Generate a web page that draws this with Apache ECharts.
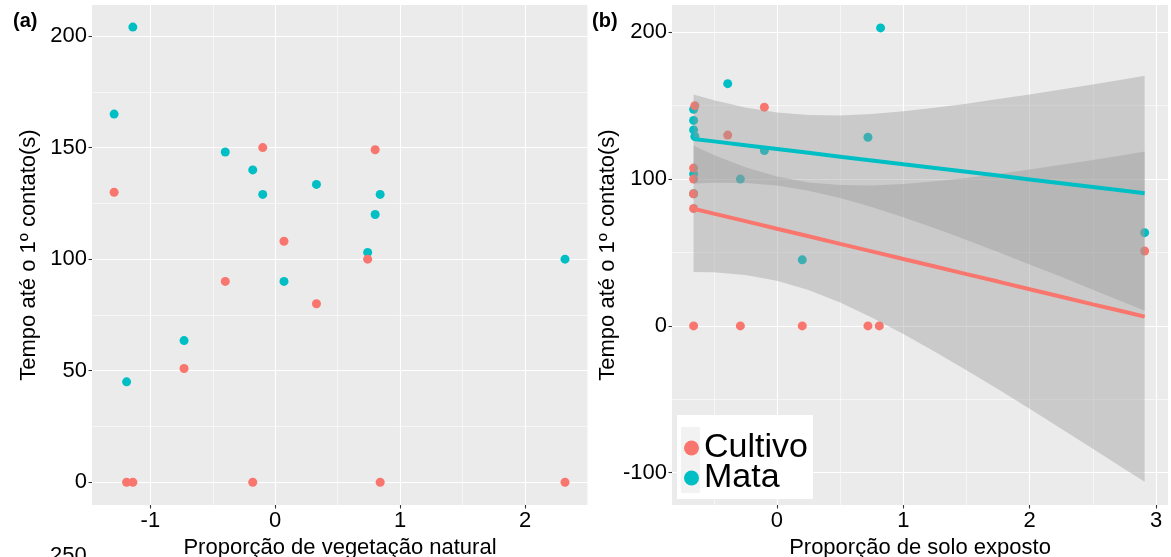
<!DOCTYPE html>
<html><head><meta charset="utf-8">
<script src="https://cdn.jsdelivr.net/npm/echarts@6/dist/echarts.min.js"></script>
<style>html,body{margin:0;padding:0;background:#fff}#c{width:1171px;height:557px}</style>
</head><body><div id="c"></div><script>
// ---- Panel (a): Proporção de vegetação natural ----
const aCultivoX = [-1.29, -0.10, 0.07, -0.40, -0.73, -1.19, -1.14, -0.18, 0.80, 0.74, 0.33, 0.84, 2.32];
const aCultivoY = [130, 150, 108, 90, 51, 0, 0, 0, 149, 100, 80, 0, 0];
const aMataX = [-1.14, -1.29, -0.40, -0.18, -0.10, 0.07, -0.73, -1.19, 0.33, 0.84, 0.80, 0.74, 2.32];
const aMataY = [204, 165, 148, 140, 129, 90, 63.5, 45, 133.5, 129, 120, 103, 100];
// ---- Panel (b): Proporção de solo exposto ----
const bCultivoX = [-0.65, -0.66, -0.66, -0.66, -0.66, -0.66, -0.39, -0.10, -0.29, 0.20, 0.72, 0.81, 2.91];
const bCultivoY = [150, 107.5, 100, 90, 80, 0, 130, 149, 0, 0, 0, 0, 51];
const bMataX = [-0.39, -0.66, -0.66, -0.66, -0.65, -0.66, -0.66, 0.72, -0.10, -0.29, 0.20, 0.82, 2.91];
const bMataY = [165, 147.5, 140, 133.5, 129, 103.5, 90, 128.5, 119.5, 100, 45, 203, 63.5];
// fitted lines and confidence bands
const fitX = [-0.66, -0.5, -0.25, 0, 0.25, 0.5, 0.75, 1, 1.25, 1.5, 1.75, 2, 2.25, 2.5, 2.75, 2.91];
const cultivoFit = [79.8, 76.5, 71.4, 66.2, 61.1, 55.9, 50.8, 45.6, 40.5, 35.3, 30.2, 25.0, 19.9, 14.7, 9.6, 6.3];
const cultivoLo = [36.8, 36.5, 34.7, 30.7, 24.4, 15.9, 5.8, -5.5, -17.6, -30.2, -43.2, -56.5, -70.0, -83.6, -97.4, -106.2];
const cultivoHi = [122.8, 116.5, 108.0, 101.7, 97.7, 95.9, 95.7, 96.7, 98.5, 100.8, 103.5, 106.5, 109.7, 113.0, 116.5, 118.8];
const mataFit = [127.3, 125.7, 123.1, 120.5, 117.9, 115.3, 112.7, 110.1, 107.6, 105.0, 102.4, 99.8, 97.2, 94.6, 92.0, 90.4];
const mataLo = [97.0, 97.5, 97.3, 95.6, 92.1, 87.2, 81.0, 74.0, 66.5, 58.6, 50.3, 41.9, 33.4, 24.7, 16.0, 10.4];
const mataHi = [157.6, 153.8, 148.8, 145.4, 143.7, 143.4, 144.4, 146.2, 148.6, 151.4, 154.5, 157.7, 161.0, 164.5, 168.0, 170.4];
// tick labels
const aXTicks = [-1, 0, 1, 2];
const aYTicks = [0, 50, 100, 150, 200];
const bXTicks = [0, 1, 2, 3];
const bYTicks = [-100, 0, 100, 200];
const seriesNames = ['Cultivo', 'Mata'];
const yTitle = 'Tempo até o 1º contato(s)';
const aXTitle = 'Proporção de vegetação natural';
const bXTitle = 'Proporção de solo exposto';

const FONT = "'Liberation Sans', Arial, sans-serif";
const RED = '#F8766D', TEAL = '#00BFC4';

function axis(gridIndex, min, max, ticks, splitNumber, name, nameGap) {
  return {
    type: 'value', gridIndex, min, max, splitNumber,
    name, nameLocation: 'middle', nameGap,
    nameTextStyle: { fontSize: 22, color: '#000', fontFamily: FONT },
    axisLine: { show: false, onZero: false },
    axisTick: { show: true, length: 3.5, lineStyle: { color: '#333', width: 1.1 }, customValues: ticks },
    axisLabel: { fontSize: 22, color: '#000', fontFamily: FONT, margin: 5, customValues: ticks },
    splitLine: { show: true, lineStyle: { color: '#fff', width: 1.1 } },
    minorTick: { show: false, splitNumber: 2 },
    minorSplitLine: { show: true, lineStyle: { color: '#fff', width: 0.55 } }
  };
}
function pts(xs, ys) { return xs.map((x, i) => [x, ys[i]]); }
function scatter(name, idx, xs, ys, color) {
  return { type: 'scatter', name, xAxisIndex: idx, yAxisIndex: idx, z: 2,
    symbol: 'circle', symbolSize: 9, itemStyle: { color, opacity: 1 },
    data: pts(xs, ys), emphasis: { disabled: true } };
}
function ribbon(name, idx, lo, hi) {
  return { type: 'custom', name, xAxisIndex: idx, yAxisIndex: idx, z: 3, silent: true, clip: true,
    data: fitX.map((x, i) => [x, lo[i], hi[i]]),
    encode: { x: 0, y: [1, 2] },
    renderItem(params, api) {
      if (params.dataIndex !== 0) return null;
      const p = [];
      for (let i = 0; i < fitX.length; i++) p.push(api.coord([fitX[i], hi[i]]));
      for (let i = fitX.length - 1; i >= 0; i--) p.push(api.coord([fitX[i], lo[i]]));
      return { type: 'polygon', shape: { points: p }, style: { fill: 'rgba(153,153,153,0.4)' } };
    } };
}
function fitLine(name, idx, ys, color) {
  return { type: 'line', name, xAxisIndex: idx, yAxisIndex: idx, z: 4, silent: true,
    showSymbol: false, symbol: 'none', data: pts(fitX, ys),
    lineStyle: { color, width: 4 }, itemStyle: { color } };
}

const chart = echarts.init(document.getElementById('c'), null, { renderer: 'canvas' });
chart.setOption({
  animation: false,
  backgroundColor: '#fff',
  grid: [
    { left: 92, right: 583, top: 5, bottom: 52, show: true, backgroundColor: '#EBEBEB', borderWidth: 0,
      containLabel: false, outerBoundsMode: 'none' },
    { left: 672, right: 3, top: 5, bottom: 52, show: true, backgroundColor: '#EBEBEB', borderWidth: 0,
      containLabel: false, outerBoundsMode: 'none' }
  ],
  xAxis: [
    axis(0, -1.467, 2.504, aXTicks, 5, aXTitle, 26),
    axis(1, -0.831, 3.095, bXTicks, 5, bXTitle, 26)
  ],
  yAxis: [
    axis(0, -10.2, 213.9, aYTicks, 5, yTitle, 52),
    axis(1, -122.0, 218.6, bYTicks, 3, yTitle, 53)
  ],
  legend: {
    data: seriesNames, orient: 'vertical', left: 684, top: 431, padding: 0,
    itemWidth: 15, itemHeight: 15, itemGap: -4, icon: 'circle', selectedMode: false, z: 10,
    textStyle: { fontSize: 34, color: '#000', fontFamily: FONT, lineHeight: 30 }
  },
  graphic: [
    { type: 'text', left: 13, top: 11, z: 10, style: { text: '(a)', font: 'bold 20px ' + FONT, fill: '#000' } },
    { type: 'text', left: 592, top: 11, z: 10, style: { text: '(b)', font: 'bold 20px ' + FONT, fill: '#000' } },
    { type: 'rect', left: 677, top: 415, z: 9, shape: { width: 136, height: 84 }, style: { fill: '#fff' } },
    { type: 'rect', left: 681, top: 427, z: 9, shape: { width: 19, height: 66 }, style: { fill: '#F2F2F2' } },
    { type: 'text', left: 50, top: 545, z: 10, style: { text: '250', font: '22px ' + FONT, fill: '#000' } }
  ],
  series: [
    scatter('Mata', 0, aMataX, aMataY, TEAL),
    scatter('Cultivo', 0, aCultivoX, aCultivoY, RED),
    scatter('Mata', 1, bMataX, bMataY, TEAL),
    scatter('Cultivo', 1, bCultivoX, bCultivoY, RED),
    ribbon('Cultivo IC', 1, cultivoLo, cultivoHi),
    ribbon('Mata IC', 1, mataLo, mataHi),
    fitLine('Cultivo ajuste', 1, cultivoFit, RED),
    fitLine('Mata ajuste', 1, mataFit, TEAL)
  ]
});
</script></body></html>
